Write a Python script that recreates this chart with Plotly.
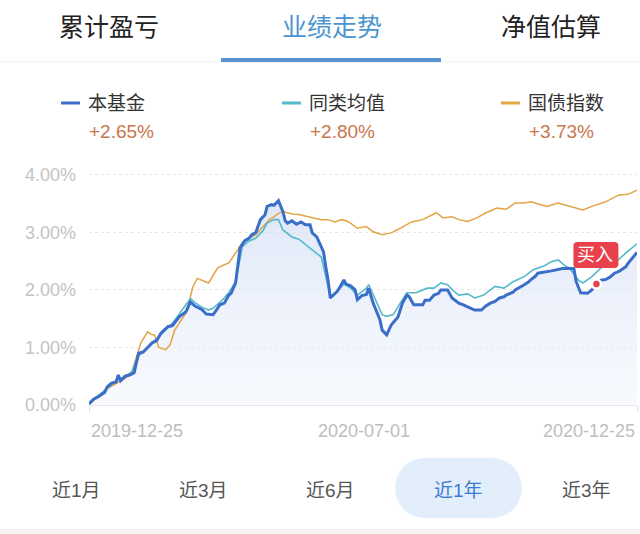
import plotly.graph_objects as go

# ---------------- data (x = trading-day index from 2019-12-25) ----------------
fund_idx = [0, 2, 4, 7, 8, 10, 12, 13, 14, 16, 18, 20, 22, 24, 26, 28, 30, 32, 35, 37, 39, 40, 43, 45, 47,
            50, 52, 55, 56, 58, 60, 62, 63, 65, 67, 69, 71, 72, 74, 75, 76, 78, 79, 81, 82, 84, 86, 87, 88,
            90, 92, 94, 96, 98, 99, 101, 102, 104, 105, 106, 107, 110, 111, 113, 114, 116, 118, 119, 121,
            123, 124, 126, 129, 130, 132, 133, 134, 137, 139, 141, 142, 144, 148, 149, 151, 153, 155, 156,
            159, 161, 163, 164, 166, 168, 171, 174, 176, 178, 180, 182, 184, 185, 188, 189, 191, 193, 195,
            196, 198, 199, 205, 210, 215, 216, 218, 221, 223, 225, 227, 229, 231, 233, 235, 238, 239, 241, 243]
fund_val = [0.02, 0.10, 0.14, 0.22, 0.31, 0.38, 0.40, 0.52, 0.42, 0.50, 0.52, 0.56, 0.90, 0.92, 1.00, 1.08,
            1.12, 1.25, 1.36, 1.38, 1.48, 1.53, 1.62, 1.79, 1.72, 1.66, 1.58, 1.57, 1.62, 1.74, 1.77, 1.91,
            1.94, 2.12, 2.73, 2.85, 2.90, 2.95, 3.00, 3.12, 3.22, 3.30, 3.45, 3.48, 3.47, 3.55, 3.36, 3.20,
            3.16, 3.20, 3.14, 3.18, 3.13, 3.13, 2.99, 2.92, 2.84, 2.66, 2.40, 2.17, 1.86, 1.97, 2.03, 2.17,
            2.10, 2.07, 2.00, 1.83, 1.90, 1.92, 2.03, 1.77, 1.48, 1.30, 1.22, 1.32, 1.39, 1.53, 1.77, 1.91,
            1.88, 1.74, 1.74, 1.82, 1.82, 1.91, 1.94, 2.00, 2.00, 1.86, 1.80, 1.77, 1.74, 1.70, 1.65, 1.65,
            1.72, 1.77, 1.80, 1.86, 1.88, 1.91, 1.96, 2.00, 2.04, 2.09, 2.14, 2.18, 2.24, 2.29, 2.33, 2.37,
            2.37, 2.15, 1.95, 1.94, 2.00, 2.10, 2.17, 2.18, 2.22, 2.29, 2.32, 2.40, 2.46, 2.56, 2.65]

peer_idx = [0, 4, 8, 13, 16, 19, 22, 26, 30, 34, 37, 40, 43, 45, 47, 50, 53, 55, 59, 62, 65, 68, 71, 74,
            77, 79, 82, 84, 86, 90, 93, 95, 97, 100, 103, 105, 107, 110, 113, 116, 119, 123, 124, 127, 130,
            132, 135, 138, 141, 145, 150, 153, 156, 159, 162, 164, 168, 171, 175, 180, 184, 188, 193, 197,
            202, 205, 208, 211, 213, 217, 219, 223, 227, 233, 238, 243]
peer_val = [0.03, 0.16, 0.30, 0.45, 0.48, 0.58, 0.85, 1.00, 1.15, 1.30, 1.42, 1.58, 1.75, 1.85, 1.78, 1.70,
            1.65, 1.68, 1.82, 1.95, 2.14, 2.75, 2.85, 2.90, 3.02, 3.16, 3.22, 3.22, 3.04, 2.92, 2.88, 2.82,
            2.75, 2.66, 2.57, 2.23, 1.88, 1.98, 2.10, 2.03, 1.91, 2.03, 2.09, 1.83, 1.57, 1.54, 1.57, 1.77,
            1.95, 1.95, 2.03, 2.03, 2.12, 2.09, 1.97, 1.91, 1.93, 1.86, 1.91, 2.06, 2.03, 2.14, 2.23, 2.35,
            2.42, 2.49, 2.52, 2.42, 2.38, 2.17, 2.12, 2.23, 2.38, 2.46, 2.64, 2.80]

bond_idx = [0, 4, 8, 13, 16, 19, 21, 23, 26, 28, 29, 31, 34, 36, 38, 39, 43, 45, 46, 48, 51, 53, 55, 57,
            59, 62, 65, 68, 71, 74, 76, 78, 80, 82, 84, 86, 90, 93, 96, 100, 103, 106, 109, 112, 114, 116,
            119, 123, 126, 130, 134, 138, 143, 148, 151, 154, 157, 161, 164, 168, 172, 176, 181, 185, 189,
            193, 196, 199, 203, 208, 214, 219, 223, 229, 235, 239, 243]
bond_val = [0.02, 0.14, 0.28, 0.40, 0.46, 0.58, 0.85, 1.08, 1.27, 1.22, 1.22, 1.00, 0.96, 1.05, 1.30, 1.36,
            1.60, 1.88, 2.05, 2.20, 2.15, 2.12, 2.25, 2.38, 2.42, 2.47, 2.64, 2.82, 2.90, 2.96, 3.05, 3.13,
            3.22, 3.27, 3.33, 3.36, 3.32, 3.31, 3.28, 3.25, 3.22, 3.22, 3.18, 3.22, 3.20, 3.16, 3.07, 3.10,
            3.01, 2.96, 2.99, 3.07, 3.18, 3.22, 3.28, 3.34, 3.25, 3.27, 3.22, 3.19, 3.25, 3.34, 3.42, 3.40,
            3.51, 3.51, 3.53, 3.50, 3.45, 3.51, 3.45, 3.39, 3.45, 3.53, 3.65, 3.66, 3.73]

buy_idx = [225]
buy_val = [2.10]

tab_labels = ["累计盈亏", "业绩走势", "净值估算"]
series_names = ["本基金", "同类均值", "国债指数"]
series_returns = ["+2.65%", "+2.80%", "+3.73%"]
y_ticks = [0, 1, 2, 3, 4]
y_ticktext = ["0.00%", "1.00%", "2.00%", "3.00%", "4.00%"]
x_tick_idx = [0, 122, 243]
x_ticktext = ["2019-12-25", "2020-07-01", "2020-12-25"]
range_labels = ["近1月", "近3月", "近6月", "近1年", "近3年"]

# ---------------- styling / layout helpers ----------------
W, H = 640, 534
ML, MR, MT, MB = 89, 3, 169, 129
PW, PH = W - ML - MR, H - MT - MB

def px(x):
    return (x - ML) / PW

def py(y):
    return (H - MB - y) / PH

C_FUND = "#3b6ec9"
C_PEER = "#55b9cc"
C_BOND = "#e3a445"
C_RED = "#e8414b"
FONT = "Liberation Sans, Noto Sans CJK SC, sans-serif"

fig = go.Figure()

# gradient area under fund line
fig.add_trace(go.Scatter(
    x=fund_idx, y=fund_val, mode="lines", line=dict(width=0, color=C_FUND),
    fill="tozeroy",
    fillgradient=dict(type="vertical",
                      colorscale=[[0, "rgba(235,241,251,0.4)"], [1, "rgba(205,218,244,0.65)"]]),
    hoverinfo="skip", showlegend=False))

fig.add_trace(go.Scatter(x=bond_idx, y=bond_val, mode="lines", name=series_names[2],
                         line=dict(color=C_BOND, width=1.5), showlegend=False))
fig.add_trace(go.Scatter(x=peer_idx, y=peer_val, mode="lines", name=series_names[1],
                         line=dict(color=C_PEER, width=1.6), showlegend=False))
fig.add_trace(go.Scatter(x=fund_idx, y=fund_val, mode="lines", name=series_names[0],
                         line=dict(color=C_FUND, width=3), showlegend=False))
fig.add_trace(go.Scatter(x=buy_idx, y=buy_val, mode="markers",
                         marker=dict(color=C_RED, size=9, line=dict(color="white", width=2.5)),
                         showlegend=False, cliponaxis=False))

shapes = []
annotations = []

# top tabs
tab_x = [109, 332, 551]
for i, (lab, tx) in enumerate(zip(tab_labels, tab_x)):
    annotations.append(dict(x=px(tx), y=py(27), xref="paper", yref="paper", text=lab,
                            showarrow=False, xanchor="center", yanchor="middle",
                            font=dict(size=25, family=FONT,
                                      color="#4a95cf" if i == 1 else "#222222")))
shapes.append(dict(type="line", xref="paper", yref="paper", x0=px(0), x1=px(640),
                   y0=py(62), y1=py(62), line=dict(color="#eeeeee", width=1)))
shapes.append(dict(type="rect", xref="paper", yref="paper", x0=px(221), x1=px(441),
                   y0=py(58), y1=py(62), fillcolor="#5a93d2", line=dict(width=0)))

# custom legend
leg_x = [61, 282, 501]
for name, ret, lx, col in zip(series_names, series_returns, leg_x, [C_FUND, C_PEER, C_BOND]):
    shapes.append(dict(type="line", xref="paper", yref="paper", x0=px(lx), x1=px(lx + 19),
                       y0=py(103), y1=py(103), line=dict(color=col, width=3)))
    annotations.append(dict(x=px(lx + 25), y=py(103), xref="paper", yref="paper", text=name,
                            showarrow=False, xanchor="left", yanchor="middle",
                            font=dict(size=19, family=FONT, color="#333333")))
    annotations.append(dict(x=px(lx + 26), y=py(131), xref="paper", yref="paper", text=ret,
                            showarrow=False, xanchor="left", yanchor="middle",
                            font=dict(size=19, family=FONT, color="#c8764e")))

# x axis labels
for xi, txt, anc in zip(x_tick_idx, x_ticktext, ["left", "center", "right"]):
    annotations.append(dict(x=xi, y=0, xref="x", yref="paper", text=txt, showarrow=False,
                            xanchor=anc, yanchor="top", yshift=-14,
                            font=dict(size=18, family=FONT, color="#bdbdbd")))

# buy tag (rounded box anchored to the buy point)
x0, x1, y0, y1, r = -23, 22, 16, 42, 4
path = (f"M{x0 + r},{y0} L{x1 - r},{y0} Q{x1},{y0} {x1},{y0 + r} L{x1},{y1 - r} "
        f"Q{x1},{y1} {x1 - r},{y1} L{x0 + r},{y1} Q{x0},{y1} {x0},{y1 - r} "
        f"L{x0},{y0 + r} Q{x0},{y0} {x0 + r},{y0} Z")
shapes.append(dict(type="path", xref="x", yref="y", xsizemode="pixel", ysizemode="pixel",
                   xanchor=buy_idx[0], yanchor=buy_val[0], path=path,
                   fillcolor=C_RED, line=dict(width=0), layer="above"))
annotations.append(dict(x=buy_idx[0], y=buy_val[0], xref="x", yref="y", text="买入",
                        showarrow=False, xshift=-1, yshift=29,
                        font=dict(size=18, family=FONT, color="white")))

# bottom range selector
btn_x = [76, 203, 330, 458, 586]
shapes.append(dict(type="rect", xref="paper", yref="paper", x0=px(425), x1=px(492),
                   y0=py(518), y1=py(458), fillcolor="#e3eefb", line=dict(width=0)))
shapes.append(dict(type="circle", xref="paper", yref="paper", x0=px(395), x1=px(455),
                   y0=py(518), y1=py(458), fillcolor="#e3eefb", line=dict(width=0)))
shapes.append(dict(type="circle", xref="paper", yref="paper", x0=px(462), x1=px(522),
                   y0=py(518), y1=py(458), fillcolor="#e3eefb", line=dict(width=0)))
for i, (lab, bx) in enumerate(zip(range_labels, btn_x)):
    annotations.append(dict(x=px(bx), y=py(490), xref="paper", yref="paper", text=lab,
                            showarrow=False, xanchor="center", yanchor="middle",
                            font=dict(size=19, family=FONT,
                                      color="#3a7bd5" if i == 3 else "#555555")))
shapes.append(dict(type="rect", xref="paper", yref="paper", x0=px(0), x1=px(640),
                   y0=py(534), y1=py(529), fillcolor="#f4f4f4", line=dict(width=0)))

fig.update_layout(
    width=W, height=H, margin=dict(l=ML, r=MR, t=MT, b=MB),
    paper_bgcolor="white", plot_bgcolor="white",
    font=dict(family=FONT),
    shapes=shapes, annotations=annotations, showlegend=False,
    xaxis=dict(range=[0, 243], showgrid=False, zeroline=False, showline=True,
               linecolor="#e6e6e6", linewidth=1, tickvals=[0, 243], ticks="outside",
               ticklen=6, tickcolor="#e0e0e0", showticklabels=False, fixedrange=True),
    yaxis=dict(range=[0, 4.1], tickvals=y_ticks, ticktext=y_ticktext, showgrid=True,
               gridcolor="#e6e6e6", griddash="3px,3px", gridwidth=1, zeroline=False,
               showline=False, ticks="", ticklabelstandoff=12,
               tickfont=dict(size=18, family=FONT, color="#c4c4c4"), fixedrange=True),
)

fig.write_html("out.html")
